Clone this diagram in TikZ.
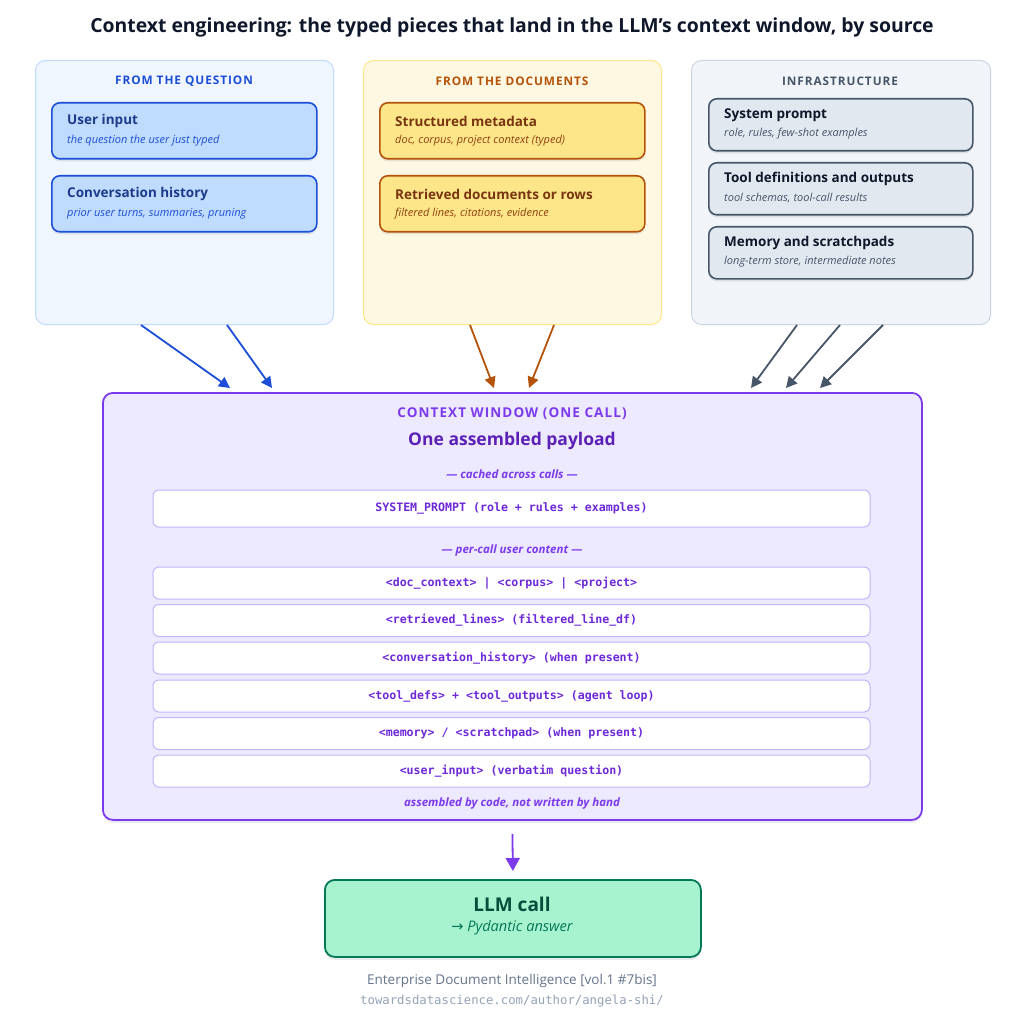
\documentclass[tikz,border=0pt]{standalone}
\usepackage{fontspec}
\setmainfont{Open Sans}
\setsansfont{Open Sans}
\setmonofont{DejaVu Sans Mono}
\newfontfamily\capsfont[LetterSpace=8]{Open Sans}
\newfontfamily\symfont{DejaVu Sans}
\usetikzlibrary{arrows.meta,shadows,calc}
\definecolor{bPanel}{HTML}{EFF6FF}\definecolor{bPanelB}{HTML}{BFDBFE}
\definecolor{bHead}{HTML}{1D4ED8}\definecolor{bBox}{HTML}{BFDBFE}
\definecolor{bTitle}{HTML}{1E3A8A}
\definecolor{aPanel}{HTML}{FEF7E2}\definecolor{aPanelB}{HTML}{FDE68A}
\definecolor{aHead}{HTML}{B45309}\definecolor{aBox}{HTML}{FDE68A}
\definecolor{aTitle}{HTML}{78350F}\definecolor{aSub}{HTML}{92400E}
\definecolor{sPanel}{HTML}{F1F5F9}\definecolor{sPanelB}{HTML}{CBD5E1}
\definecolor{sHead}{HTML}{475569}\definecolor{sBox}{HTML}{E2E8F0}
\definecolor{sTitle}{HTML}{0F172A}
\definecolor{pFill}{HTML}{EDE9FE}\definecolor{pStroke}{HTML}{7C3AED}
\definecolor{pTitle}{HTML}{5B21B6}\definecolor{pRowB}{HTML}{C4B5FD}
\definecolor{pText}{HTML}{6D28D9}
\definecolor{gFill}{HTML}{A7F3D0}\definecolor{gStroke}{HTML}{047857}
\definecolor{gTitle}{HTML}{064E3B}
\definecolor{footA}{HTML}{64748B}\definecolor{footB}{HTML}{94A3B8}
\definecolor{titleC}{HTML}{0F172A}
\tikzset{
  panel/.style={rounded corners=10pt, line width=1pt, minimum width=298pt, minimum height=264pt, anchor=north west, inner sep=0pt},
  card/.style={rounded corners=8pt, line width=1.6pt, anchor=north west, inner sep=0pt,
     drop shadow={opacity=0.18, shadow xshift=0pt, shadow yshift=-2.5pt}},
  ctitle/.style={anchor=west, inner sep=0pt, font=\fontsize{13.5}{16}\selectfont\bfseries},
  csub/.style={anchor=west, inner sep=0pt, font=\fontsize{11}{13}\selectfont\itshape},
  phead/.style={inner sep=0pt, font=\capsfont\fontsize{11.8}{13}\selectfont\bfseries},
  rowbox/.style={rounded corners=6pt, fill=white, draw=pRowB, line width=1pt, minimum width=717pt,
     minimum height=32pt, inner sep=0pt, text=pText, font=\ttfamily\fontsize{11.6}{13}\selectfont\bfseries},
  sep/.style={inner sep=0pt, text=pStroke, font=\fontsize{11.5}{13}\selectfont\bfseries\itshape},
  arr/.style={line width=1.8pt, -{Triangle[length=11pt,width=11pt]}},
}
\begin{document}
\begin{tikzpicture}[x=1pt,y=-1pt]
\useasboundingbox[fill=white] (0,0) rectangle (1024,1024);

\node[inner sep=0pt, text=titleC, font=\fontsize{19.4}{22}\selectfont\bfseries] (title) at (512,27)
  {Context engineering: the typed pieces that land in the LLM's context window, by source};

% panels
\node[panel, fill=bPanel, draw=bPanelB] (p1) at (35,60) {};
\node[panel, fill=aPanel, draw=aPanelB] (p2) at (363,60) {};
\node[panel, fill=sPanel, draw=sPanelB, minimum width=299pt] (p3) at (691,60) {};
\node[phead, text=bHead] (h1) at (184,81) {FROM THE QUESTION};
\node[phead, text=aHead] (h2) at (512,81) {FROM THE DOCUMENTS};
\node[phead, text=sHead] (h3) at (840,81) {INFRASTRUCTURE};

% blue cards
\node[card, fill=bBox, draw=bHead, minimum width=265pt, minimum height=56pt] (c1) at (51,102) {};
\node[ctitle, text=bTitle] (c1t) at (67,121) {User input};
\node[csub, text=bHead] (c1s) at (67,141) {the question the user just typed};
\node[card, fill=bBox, draw=bHead, minimum width=265pt, minimum height=56pt] (c2) at (51,175) {};
\node[ctitle, text=bTitle] (c2t) at (67,194) {Conversation history};
\node[csub, text=bHead] (c2s) at (67,214) {prior user turns, summaries, pruning};

% amber cards
\node[card, fill=aBox, draw=aHead, minimum width=265pt, minimum height=56pt] (c3) at (379,102) {};
\node[ctitle, text=aTitle] (c3t) at (395,121) {Structured metadata};
\node[csub, text=aSub] (c3s) at (395,141) {doc, corpus, project context (typed)};
\node[card, fill=aBox, draw=aHead, minimum width=265pt, minimum height=56pt] (c4) at (379,175) {};
\node[ctitle, text=aTitle] (c4t) at (395,194) {Retrieved documents or rows};
\node[csub, text=aSub] (c4s) at (395,214) {filtered lines, citations, evidence};

% slate cards
\node[card, fill=sBox, draw=sHead, minimum width=264pt, minimum height=52pt] (c5) at (708,98) {};
\node[ctitle, text=sTitle] (c5t) at (724,115) {System prompt};
\node[csub, text=sHead] (c5s) at (724,134) {role, rules, few-shot examples};
\node[card, fill=sBox, draw=sHead, minimum width=264pt, minimum height=52pt] (c6) at (708,162) {};
\node[ctitle, text=sTitle] (c6t) at (724,179) {Tool definitions and outputs};
\node[csub, text=sHead] (c6s) at (724,198) {tool schemas, tool-call results};
\node[card, fill=sBox, draw=sHead, minimum width=264pt, minimum height=52pt] (c7) at (708,226) {};
\node[ctitle, text=sTitle] (c7t) at (724,243) {Memory and scratchpads};
\node[csub, text=sHead] (c7s) at (724,262) {long-term store, intermediate notes};

% context window
\node[rounded corners=10pt, fill=pFill, draw=pStroke, line width=1.8pt, minimum width=819pt, minimum height=427pt,
  anchor=north west, inner sep=0pt, drop shadow={opacity=0.15, shadow xshift=0pt, shadow yshift=-3pt}] (cw) at (102,392) {};
\node[phead, text=pStroke, font=\capsfont\fontsize{13.5}{15}\selectfont\bfseries] (cwh) at (512,414) {CONTEXT WINDOW (ONE CALL)};
\node[inner sep=0pt, text=pTitle, font=\fontsize{17.5}{20}\selectfont\bfseries] (cwt) at (512,441) {One assembled payload};
\node[sep] (s1) at (512,474) {— cached across calls —};
\node[rowbox, minimum height=37pt] (r0) at (511.5,508.5) {SYSTEM\_PROMPT (role + rules + examples)};
\node[sep] (s2) at (512,551) {— per-call user content —};
\node[rowbox] (r1) at (511.5,583) {<doc\_context> | <corpus> | <project>};
\node[rowbox] (r2) at (511.5,620.5) {<retrieved\_lines> (filtered\_line\_df)};
\node[rowbox] (r3) at (511.5,658) {<conversation\_history> (when present)};
\node[rowbox] (r4) at (511.5,696) {<tool\_defs> + <tool\_outputs> (agent loop)};
\node[rowbox] (r5) at (511.5,733.5) {<memory> / <scratchpad> (when present)};
\node[rowbox] (r6) at (511.5,771) {<user\_input> (verbatim question)};
\node[sep] (s3) at (512,804) {assembled by code, not written by hand};

% LLM call
\node[rounded corners=10pt, fill=gFill, draw=gStroke, line width=1.8pt, minimum width=376pt, minimum height=77pt,
  anchor=north west, inner sep=0pt, drop shadow={opacity=0.18, shadow xshift=0pt, shadow yshift=-3pt}] (llm) at (324,879) {};
\node[inner sep=0pt, text=gTitle, font=\fontsize{19}{22}\selectfont\bfseries] (llmt) at (512,904) {LLM call};
\node[inner sep=0pt, text=gStroke, font=\fontsize{14.6}{17}\selectfont\itshape] (llms) at (512,928) {{\symfont →} Pydantic answer};

% footer
\node[inner sep=0pt, text=footA, font=\fontsize{13.5}{15}\selectfont] (f1) at (512,981) {Enterprise Document Intelligence [vol.1 \#7bis]};
\node[inner sep=0pt, text=footB, font=\ttfamily\fontsize{12.3}{14}\selectfont] (f2) at (512,1001) {towardsdatascience.com/author/angela-shi/};

% arrows
\coordinate (a1) at ($(p1.south west)+(106,0)$);
\coordinate (a2) at ($(p1.south west)+(192,0)$);
\coordinate (a3) at ($(p2.south west)+(107,0)$);
\coordinate (a4) at ($(p2.south west)+(191,0)$);
\coordinate (a5) at ($(p3.south west)+(106,0)$);
\coordinate (a6) at ($(p3.south west)+(149,0)$);
\coordinate (a7) at ($(p3.south west)+(192,0)$);
\coordinate (e1) at ($(cw.north west)+(128,-4)$);
\coordinate (e2) at ($(cw.north west)+(170,-4)$);
\coordinate (e3) at ($(cw.north west)+(392,-4)$);
\coordinate (e4) at ($(cw.north west)+(427,-4)$);
\coordinate (e5) at ($(cw.north west)+(649,-4)$);
\coordinate (e6) at ($(cw.north west)+(684,-4)$);
\coordinate (e7) at ($(cw.north west)+(718,-4)$);
\draw[arr, draw=bHead, fill=bHead] (a1) -- (e1);
\draw[arr, draw=bHead, fill=bHead] (a2) -- (e2);
\draw[arr, draw=aHead, fill=aHead] (a3) -- (e3);
\draw[arr, draw=aHead, fill=aHead] (a4) -- (e4);
\draw[arr, draw=sHead, fill=sHead] (a5) -- (e5);
\draw[arr, draw=sHead, fill=sHead] (a6) -- (e6);
\draw[arr, draw=sHead, fill=sHead] (a7) -- (e7);
\draw[arr, draw=pStroke, fill=pStroke, -{Triangle[length=13pt,width=14pt]}] ($(cw.south)+(0,13)$) -- ($(llm.north)+(0,-8)$);
\end{tikzpicture}
\end{document}
